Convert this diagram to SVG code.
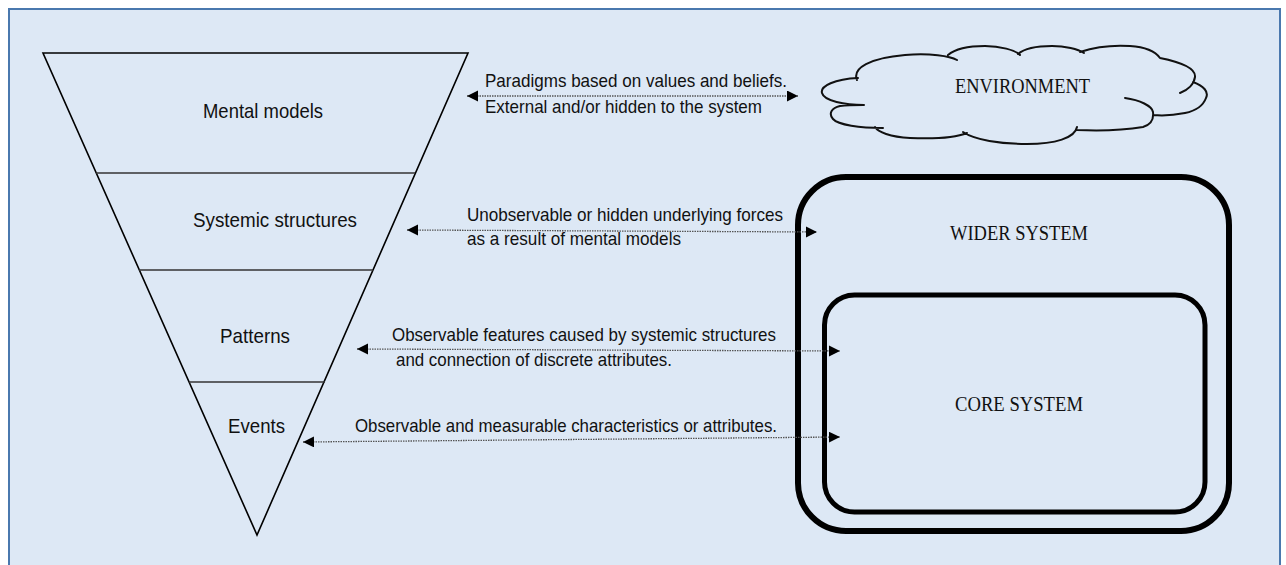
<svg xmlns="http://www.w3.org/2000/svg" width="1286" height="565" viewBox="0 0 1286 565">
  <style>
    .frame { fill: #dde8f5; stroke: #4a78ae; stroke-width: 2; }
    .tri { fill: none; stroke: #000; stroke-width: 1.6; stroke-linejoin: miter; }
    .div { stroke: #333; stroke-width: 1.4; }
    .lbl { font-family: "Liberation Sans", Arial, sans-serif; font-size: 21px; fill: #111; }
    .note { font-family: "Liberation Sans", Arial, sans-serif; font-size: 18.5px; fill: #111; }
    .sys { font-family: "Liberation Serif", "Times New Roman", serif; font-size: 22px; fill: #111; }
    .link { fill: none; stroke: #555; stroke-width: 1.3; stroke-dasharray: 1.5 1; marker-start: url(#head); marker-end: url(#head); }
    .cloud { fill: none; stroke: #111; stroke-width: 2; stroke-linecap: round; }
    .box { fill: none; stroke: #000; }
  </style>
  <defs>
    <marker id="head" markerUnits="userSpaceOnUse" markerWidth="12" markerHeight="12" refX="11" refY="5.5" orient="auto-start-reverse">
      <path d="M0,0 L11,5.5 L0,11 z" fill="#000"/>
    </marker>
  </defs>

  <!-- background panel -->
  <rect class="frame" x="9" y="9" width="1271" height="600"/>

  <!-- inverted triangle of levels -->
  <g id="iceberg">
    <polygon class="tri" points="43,53 468,53 257,535"/>
    <line class="div" x1="96" y1="173" x2="415" y2="173"/>
    <line class="div" x1="139" y1="270" x2="373" y2="270"/>
    <line class="div" x1="189" y1="382" x2="325" y2="382"/>
  </g>
  <g id="level-mental-models">
    <text class="lbl" x="203" y="118" textLength="120" lengthAdjust="spacingAndGlyphs">Mental models</text>
  </g>
  <g id="level-systemic-structures">
    <text class="lbl" x="193" y="227" textLength="164" lengthAdjust="spacingAndGlyphs">Systemic structures</text>
  </g>
  <g id="level-patterns">
    <text class="lbl" x="220" y="343" textLength="70" lengthAdjust="spacingAndGlyphs">Patterns</text>
  </g>
  <g id="level-events">
    <text class="lbl" x="228" y="433" textLength="57" lengthAdjust="spacingAndGlyphs">Events</text>
  </g>

  <!-- environment cloud -->
  <g id="environment">
    <path class="cloud" d="
      M858,78 C835,79 820,86 822,93 C824,101 845,105 864,105
      M857,80 C852,68 870,58 905,55 C930,53 950,56 957,60
      M948,55 C955,49 970,46 985,46 C1000,46 1015,50 1020,55
      M1018,54 C1025,48 1040,46 1052,46 C1065,46 1078,49 1084,53
      M1080,52 C1095,47 1115,45 1130,46 C1145,47 1155,51 1160,58
      M1160,58 C1180,62 1196,68 1195,77 C1194,84 1188,90 1180,93
      M1193,82 C1204,86 1209,92 1206,98 C1203,106 1195,111 1185,113 C1175,115 1163,116 1153,115
      M1125,98 C1140,100 1152,106 1153,112 C1154,120 1150,125 1143,127 C1125,130 1100,131 1077,130
      M1077,127 C1075,138 1055,144 1027,144 C1000,144 975,140 963,132
      M967,133 C955,138 935,139 910,138 C890,137 878,132 875,127
      M883,128 C860,128 838,125 833,119 C828,113 832,108 840,106 C848,105 856,105 863,105"/>
    <text class="sys" x="955" y="93" textLength="135" lengthAdjust="spacingAndGlyphs">ENVIRONMENT</text>
  </g>

  <!-- nested systems -->
  <g id="wider-system">
    <rect class="box" x="798" y="177" width="431" height="354" rx="48" ry="48" stroke-width="6"/>
    <text class="sys" x="950" y="240" textLength="138" lengthAdjust="spacingAndGlyphs">WIDER SYSTEM</text>
  </g>
  <g id="core-system">
    <rect class="box" x="824.5" y="295" width="380.5" height="217" rx="30" ry="30" stroke-width="5"/>
    <text class="sys" x="955" y="411" textLength="128" lengthAdjust="spacingAndGlyphs">CORE SYSTEM</text>
  </g>

  <!-- two-way connectors with their notes -->
  <g id="connectors">
    <line class="link" x1="467" y1="96" x2="798" y2="96"/>
    <line class="link" x1="407" y1="230" x2="817" y2="232"/>
    <line class="link" x1="357" y1="349" x2="840" y2="351"/>
    <line class="link" x1="303" y1="442" x2="840" y2="437"/>

    <text class="note" x="485" y="87" textLength="302" lengthAdjust="spacingAndGlyphs">Paradigms based on values and beliefs.</text>
    <text class="note" x="485" y="113" textLength="277" lengthAdjust="spacingAndGlyphs">External and/or hidden to the system</text>

    <text class="note" x="467" y="221" textLength="316" lengthAdjust="spacingAndGlyphs">Unobservable or hidden underlying forces</text>
    <text class="note" x="467" y="245" textLength="214" lengthAdjust="spacingAndGlyphs">as a result of mental models</text>

    <text class="note" x="392" y="341" textLength="384" lengthAdjust="spacingAndGlyphs">Observable features caused by systemic structures</text>
    <text class="note" x="396" y="366" textLength="276" lengthAdjust="spacingAndGlyphs">and connection of discrete attributes.</text>

    <text class="note" x="355" y="432" textLength="422" lengthAdjust="spacingAndGlyphs">Observable and measurable characteristics or attributes.</text>
  </g>
</svg>
